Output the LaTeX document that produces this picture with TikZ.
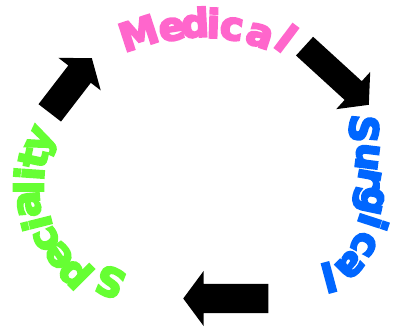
\documentclass[tikz,border=0pt]{standalone}
\usepackage{fontspec}
\setmainfont{DejaVu Sans}
\newfontfamily\heavyfont{DejaVu Sans Bold}
\newcommand\hv[1]{\special{pdf:literal direct 2 Tr 2.1 w}#1\special{pdf:literal direct 0 Tr}}
\usetikzlibrary{shapes.arrows}
\definecolor{medpink}{RGB}{255,102,204}
\definecolor{surgblue}{RGB}{0,102,255}
\definecolor{specgreen}{RGB}{102,255,51}
\begin{document}
\begin{tikzpicture}[x=1pt,y=-1pt,
  letter/.style={inner sep=0pt, font=\heavyfont\fontsize{39}{39}\selectfont},
  med/.style={letter, text=medpink},
  surg/.style={letter, text=surgblue},
  spec/.style={letter, text=specgreen},
  blockarrow/.style={single arrow, fill=black, draw=none, inner xsep=0pt,
    anchor=tip, minimum width=0pt, single arrow tip angle=106}]
\useasboundingbox (0,0) rectangle (393,328);
% Medical
\node[med, rotate=18]  (m1) at (138.5,33) {\hv{M}};
\node[med, rotate=9]   (m2) at (172,29.5) {\hv{e}};
\node[med, rotate=3]   (m3) at (195,22.5) {\hv{d}};
\node[med, rotate=-2]  (m4) at (213.5,23) {\hv{i}};
\node[med, rotate=-8]  (m5) at (231.5,29) {\hv{c}};
\node[med, rotate=-18] (m6) at (259.5,36) {\hv{a}};
\node[med, rotate=-37] (m7) at (286.5,38) {\hv{l}};
% Surgical
\node[surg, rotate=-95]  (s1) at (364,129) {\hv{S}};
\node[surg, rotate=-97]  (s2) at (367,157) {\hv{u}};
\node[surg, rotate=-100] (s3) at (369.5,178) {\hv{r}};
\node[surg, rotate=-102] (s4) at (368,200) {\hv{g}};
\node[surg, rotate=-108] (s5) at (373.5,222) {\hv{i}};
\node[surg, rotate=-118] (s6) at (364,244) {\hv{c}};
\node[surg, rotate=-135] (s7) at (350,265) {\hv{a}};
\node[surg, rotate=-165] (s8) at (329,277.5) {\hv{l}};
% Speciality
\node[spec, rotate=158] (p1) at (110,282) {\hv{S}};
\node[spec, rotate=135] (p2) at (76,272) {\hv{p}};
\node[spec, rotate=124] (p3) at (59,255.5) {\hv{e}};
\node[spec, rotate=114] (p4) at (46.5,239) {\hv{c}};
\node[spec, rotate=104] (p5) at (36.5,223.5) {\hv{i}};
\node[spec, rotate=95]  (p6) at (29,204) {\hv{a}};
\node[spec, rotate=90]  (p7) at (28.5,187.5) {\hv{l}};
\node[spec, rotate=86]  (p8) at (29,173.5) {\hv{i}};
\node[spec, rotate=78]  (p9) at (33,158) {\hv{t}};
\node[spec, rotate=65]  (p10) at (43.5,141.5) {\hv{y}};
% arrows
\node[blockarrow, rotate=52.4, minimum height=69, inner ysep=14,
  single arrow head extend=12.5] (a1) at (92,58) {};
\node[blockarrow, rotate=-42.4, minimum height=87, inner ysep=12.5,
  single arrow head extend=12.5, single arrow tip angle=100] (a2) at (369,105) {};
\node[blockarrow, rotate=180, minimum height=85, inner ysep=14.5,
  single arrow head extend=13, single arrow tip angle=107] (a3) at (183,298.5) {};
\end{tikzpicture}
\end{document}
